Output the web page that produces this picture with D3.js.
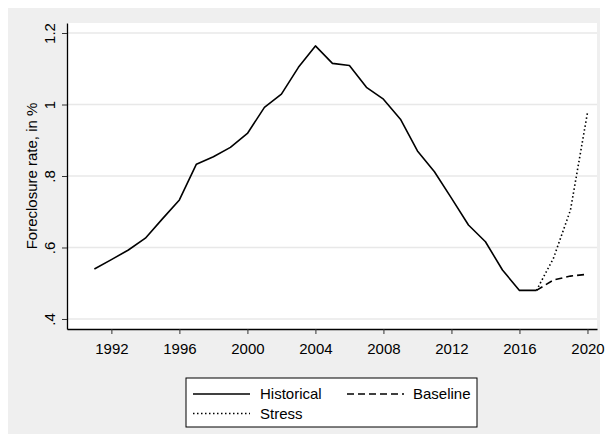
<!DOCTYPE html>
<html>
<head>
<meta charset="utf-8">
<script src="https://cdn.jsdelivr.net/npm/d3@7"></script>
<style>
  html, body { margin: 0; padding: 0; background: #ffffff; }
  svg text { font-family: "Liberation Sans", Arial, sans-serif; fill: #000; }
</style>
</head>
<body>
<svg id="chart" width="605" height="442"></svg>
<script>
// Foreclosure rate (%), historical series and two projections
const histYears = d3.range(1991, 2018);
const histValues = [0.540, 0.566, 0.593, 0.626, 0.680, 0.733, 0.833, 0.854, 0.880, 0.919,
                    0.992, 1.029, 1.104, 1.164, 1.115, 1.109, 1.048, 1.015, 0.959, 0.870,
                    0.812, 0.738, 0.663, 0.616, 0.537, 0.480, 0.480];
const projYears = [2017, 2018, 2019, 2020];
const baselineValues = [0.480, 0.509, 0.520, 0.525];
const stressValues = [0.480, 0.570, 0.705, 0.977];

const xTicks = [1992, 1996, 2000, 2004, 2008, 2012, 2016, 2020];
const yTicks = [0.4, 0.6, 0.8, 1.0, 1.2];
const yTickLabels = [".4", ".6", ".8", "1", "1.2"];

const legendItems = [
  { label: "Historical", dash: null, col: 0, row: 0 },
  { label: "Baseline", dash: "7,4", col: 1, row: 0 },
  { label: "Stress", dash: "1.5,2.5", col: 0, row: 1 }
];

const svg = d3.select("#chart");
const W = 605, H = 442;
const plot = { left: 67, right: 597, top: 23, bottom: 329 };

// outer graph region
svg.append("rect").attr("x", 8).attr("y", 8).attr("width", 592).attr("height", 426)
  .attr("fill", "#efefef");
svg.append("rect").attr("x", plot.left).attr("y", plot.top)
  .attr("width", plot.right - plot.left).attr("height", plot.bottom - plot.top)
  .attr("fill", "#ffffff");

const x = d3.scaleLinear().domain([1989.39, 2020.56]).range([plot.left, plot.right]);
const y = d3.scaleLinear().domain([0.372, 1.228]).range([plot.bottom, plot.top]);

// horizontal grid
svg.append("g").selectAll("line").data(yTicks).join("line")
  .attr("x1", plot.left).attr("x2", plot.right)
  .attr("y1", d => y(d)).attr("y2", d => y(d))
  .attr("stroke", "#e8e8e8").attr("stroke-width", 1.6);

// axes
const yAxis = svg.append("g").attr("transform", `translate(${plot.left},0)`)
  .call(d3.axisLeft(y).tickValues(yTicks).tickSize(5).tickSizeOuter(0)
    .tickFormat((d, i) => yTickLabels[i]));
yAxis.selectAll("text")
  .attr("transform", "rotate(-90)")
  .attr("x", 0).attr("y", -12).attr("dy", 0)
  .attr("text-anchor", "middle")
  .style("font-size", "15px");

const xAxis = svg.append("g").attr("transform", `translate(0,${plot.bottom})`)
  .call(d3.axisBottom(x).tickValues(xTicks).tickSize(5).tickSizeOuter(0)
    .tickFormat(d3.format("d")).tickPadding(9));
xAxis.selectAll("text").style("font-size", "15px");

[yAxis, xAxis].forEach(a => {
  a.select(".domain").attr("stroke", "#000").attr("stroke-width", 1.3);
  a.selectAll(".tick line").attr("stroke", "#333").attr("stroke-width", 1);
});

// y axis title
svg.append("text")
  .attr("transform", `translate(37,${(plot.top + plot.bottom) / 2}) rotate(-90)`)
  .attr("text-anchor", "middle")
  .style("font-size", "15px")
  .text("Foreclosure rate, in %");

// series
const line = d3.line().x(d => x(d[0])).y(d => y(d[1]));
const series = [
  { pts: d3.zip(histYears, histValues), dash: null },
  { pts: d3.zip(projYears, baselineValues), dash: "7,4" },
  { pts: d3.zip(projYears, stressValues), dash: "1.5,2.5" }
];
svg.append("g").selectAll("path").data(series).join("path")
  .attr("d", d => line(d.pts))
  .attr("fill", "none")
  .attr("stroke", "#000")
  .attr("stroke-width", 1.6)
  .attr("stroke-linejoin", "round")
  .attr("stroke-dasharray", d => d.dash);

// legend
const lg = svg.append("g").attr("transform", "translate(186,378)");
lg.append("rect").attr("width", 291).attr("height", 49)
  .attr("fill", "#fff").attr("stroke", "#000").attr("stroke-width", 1);
const item = lg.selectAll("g.item").data(legendItems).join("g")
  .attr("class", "item")
  .attr("transform", d => `translate(${7 + d.col * 154},${16 + d.row * 19.5})`);
item.append("line").attr("x1", 0).attr("x2", 57)
  .attr("stroke", "#000").attr("stroke-width", 1.4)
  .attr("stroke-dasharray", d => d.dash);
item.append("text").attr("x", d => d.col ? 66 : 67).attr("y", 5)
  .style("font-size", "15px").text(d => d.label);
</script>
</body>
</html>
